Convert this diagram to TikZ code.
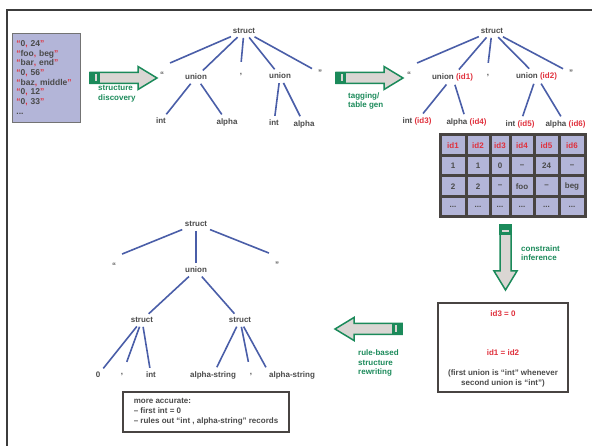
\documentclass[tikz,border=0pt]{standalone}
\usepackage{fontspec}
\setmainfont{Liberation Sans}
\definecolor{txt}{HTML}{4A4A4A}
\definecolor{idred}{HTML}{E0303C}
\definecolor{grn}{HTML}{1B8A5A}
\definecolor{lav}{HTML}{B3B5D8}
\definecolor{blu}{HTML}{4A5EA8}
\definecolor{afill}{HTML}{DAD6D3}
\definecolor{dark}{HTML}{484442}
\definecolor{frm}{HTML}{3C3C3C}

% a quoted record "a, b" with red quotes and comma
\newcommand\rec[2]{\textcolor{idred}{“}#1\textcolor{idred}{,} #2\textcolor{idred}{”}}

% block arrow: start x, start y, direction angle, length
\newcommand\blockarrow[4]{%
  \begin{scope}[shift={(#1,#2)},rotate=#3]
    \filldraw[fill=afill,draw=grn,line width=1.5pt,line join=miter]
      (0,-5.5) -- ({#4-19},-5.5) -- ({#4-19},-11.5) -- (#4,0)
      -- ({#4-19},11.5) -- ({#4-19},5.5) -- (0,5.5) -- cycle;
    \fill[grn] (-0.75,-6.25) rectangle (10,6.25);
    \fill[afill] (5,-3.5) rectangle (7,3.5);
  \end{scope}}

\begin{document}
\begin{tikzpicture}[x=1pt,y=-1pt,
  every node/.style={font=\fontsize{8}{9.6}\selectfont\bfseries,text=txt,inner sep=2pt},
  punct/.style={minimum width=12pt,minimum height=22pt},
  br/.style={draw=blu,line width=1.6pt,shorten <=2pt,shorten >=2pt},
  tag/.style={text=grn,align=left,anchor=west},
  cell/.style={draw=dark,line width=3pt,fill=lav,inner sep=0pt,minimum height=20.5pt},
  outline/.style={draw=dark,line width=1.8pt,fill=white}]

\useasboundingbox (0,0) rectangle (592,446);
\clip (0,0) rectangle (592,446);

% outer frame
\draw[frm,line width=2pt] (7,460) -- (7,10) -- (600,10);

% input records
\node[draw=black!55,line width=0.8pt,fill=lav,minimum width=68pt,minimum height=89pt,
      text width=60pt,align=left,inner sep=0pt,anchor=north west,
      font=\fontsize{8.5}{9.6}\selectfont\bfseries] (data) at (12,33)
  {\rec{0}{24}\\\rec{foo}{beg}\\\rec{bar}{end}\\\rec{0}{56}\\\rec{baz}{middle}\\\rec{0}{12}\\\rec{0}{33}\\[1pt]...};

% stage arrows
\blockarrow{90}{78}{0}{67}
\blockarrow{336}{78}{0}{67}
\blockarrow{505.5}{225}{-90}{65}
\blockarrow{402}{329}{180}{67}

\node[tag] (lab1) at (96,94) {structure\\discovery};
\node[tag] (lab2) at (346,101) {tagging/\\table gen};
\node[tag] (lab3) at (519,253) {constraint\\inference};
\node[tag] (lab4) at (356,363) {rule-based\\structure\\rewriting};

% discovered structure
\node (s1) at (244,31) {struct};
\node[punct] (s1q) at (162,75) {“};
\node (s1u) at (196,77) {union};
\node[punct] (s1c) at (241,75) {,};
\node (s1v) at (280,76) {union};
\node[punct] (s1e) at (320,73) {”};
\node (s1i) at (161,121) {int};
\node (s1a) at (227,122) {alpha};
\node (s1j) at (274,123) {int};
\node (s1b) at (304,124) {alpha};
\draw[br] (s1) -- (s1q.north east);
\draw[br] (s1) -- (s1u);
\draw[br] (s1) -- (s1c.north);
\draw[br] (s1) -- (s1v);
\draw[br] (s1) -- (s1e);
\draw[br] (s1u) -- (s1i);
\draw[br] (s1u) -- (s1a);
\draw[br] (s1v) -- (s1j);
\draw[br] (s1v) -- (s1b);

% tagged structure
\node (s2) at (492,31) {struct};
\node[punct] (s2q) at (409,75) {“};
\node (s2u) at (452.5,77) {union \textcolor{idred}{(id1)}};
\node[punct] (s2c) at (488,76) {,};
\node (s2v) at (536.5,76) {union \textcolor{idred}{(id2)}};
\node[punct] (s2e) at (571,73) {”};
\node (s2i) at (417,121) {int \textcolor{idred}{(id3)}};
\node (s2a) at (466.5,122) {alpha \textcolor{idred}{(id4)}};
\node (s2j) at (520,124) {int \textcolor{idred}{(id5)}};
\node (s2b) at (565.5,124) {alpha \textcolor{idred}{(id6)}};
\draw[br] (s2) -- (s2q.north east);
\draw[br] (s2) -- (s2u);
\draw[br] (s2) -- (s2c.north);
\draw[br] (s2) -- (s2v);
\draw[br] (s2) -- (s2e);
\draw[br] (s2u) -- (s2i);
\draw[br] (s2u) -- (s2a);
\draw[br] (s2v) -- (s2j);
\draw[br] (s2v) -- (s2b);

% tag table
\foreach \xa/\xb/\t [count=\j] in {440/466/id1,466/490/id2,490/510/id3,510/534/id4,534/559/id5,559/585/id6}
  \node[cell,text=idred,minimum width={(\xb-\xa)*1pt}] (h\j) at ({(\xa+\xb)/2},145.25) {\t};
\foreach \xa/\xb/\t [count=\j] in {440/466/1,466/490/1,490/510/0,510/534/--,534/559/24,559/585/--}
  \node[cell,minimum width={(\xb-\xa)*1pt}] (a\j) at ({(\xa+\xb)/2},165.75) {\t};
\foreach \xa/\xb/\t [count=\j] in {440/466/2,466/490/2,490/510/--,510/534/foo,534/559/--,559/585/beg}
  \node[cell,minimum width={(\xb-\xa)*1pt}] (b\j) at ({(\xa+\xb)/2},186.25) {\t};
\foreach \xa/\xb [count=\j] in {440/466,466/490,490/510,510/534,534/559,559/585}
  \node[cell,minimum width={(\xb-\xa)*1pt}] (d\j) at ({(\xa+\xb)/2},206.75) {...};

% inferred constraints
\node[outline,minimum width=130pt,minimum height=89pt] (cbox) at (503,347.5) {};
\node[text=idred] (c1) at (503,314) {id3 = 0};
\node[text=idred] (c2) at (503,353) {id1 = id2};
\node[align=center] (c3) at (503,378.5) {(first union is “int” whenever\\second union is “int”)};

% rewritten structure
\node (s3) at (196,224) {struct};
\node[punct] (s3q) at (114,266) {“};
\node (s3u) at (196,270) {union};
\node[punct] (s3e) at (277,265) {”};
\node (s3l) at (142,320) {struct};
\node (s3r) at (240,320) {struct};
\node (s3z) at (98,375) {0};
\node[punct] (s3c) at (122,375) {,};
\node (s3i) at (151,375) {int};
\node (s3a) at (213,375) {alpha-string};
\node[punct] (s3d) at (251,375) {,};
\node (s3b) at (292,375) {alpha-string};
\draw[br] (s3) -- (s3q.north east);
\draw[br] (s3) -- (s3u);
\draw[br] (s3) -- (s3e.north west);
\draw[br] (s3u) -- (s3l);
\draw[br] (s3u) -- (s3r);
\draw[br] (s3l) -- (s3z);
\draw[br] (s3l) -- (s3c);
\draw[br] (s3l) -- (s3i);
\draw[br] (s3r) -- (s3a);
\draw[br] (s3r) -- (s3d);
\draw[br] (s3r) -- (s3b.north west);

% summary note
\node[outline,minimum width=166pt,minimum height=40pt,align=left,font=\fontsize{8}{10}\selectfont\bfseries] (note) at (206,412)
  {more accurate:\\-- first int = 0\\-- rules out “int , alpha-string” records};

\end{tikzpicture}
\end{document}
